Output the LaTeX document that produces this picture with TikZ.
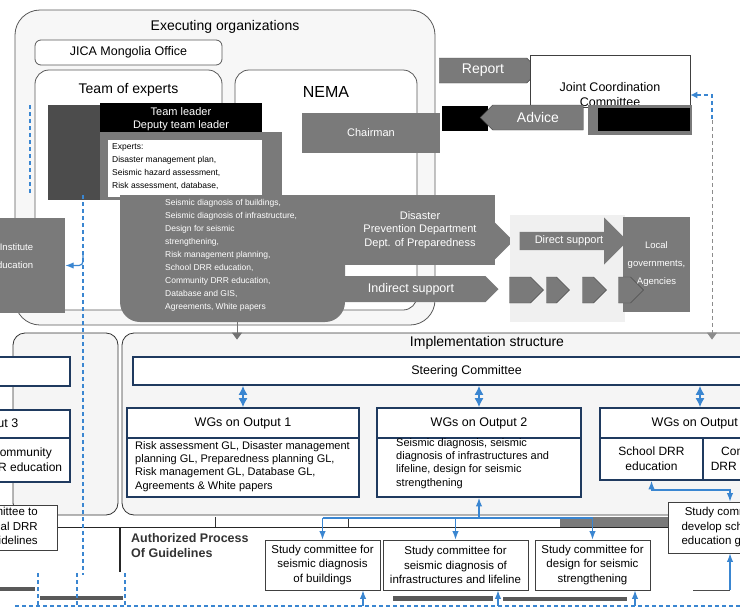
\documentclass[tikz,border=0pt]{standalone}
\usepackage{fontspec}
\setmainfont{Liberation Sans}
\usetikzlibrary{shapes.arrows,shapes.symbols,arrows.meta,calc}
\definecolor{navy}{HTML}{1F3A5F}
\definecolor{linkblue}{HTML}{3A86D1}
\definecolor{blockgray}{HTML}{7A7A7A}
\newcommand{\hugetxt}{\fontsize{16}{18}\selectfont}
\newcommand{\bigtxt}{\fontsize{14}{16}\selectfont}
\newcommand{\midtxt}{\fontsize{12.5}{15}\selectfont}
\newcommand{\sctxt}{\fontsize{11.5}{14.5}\selectfont}
\newcommand{\bodytxt}{\fontsize{11}{13.3}\selectfont}
\newcommand{\smalltxt}{\fontsize{8.5}{13}\selectfont}

\begin{document}
\begin{tikzpicture}[x=1pt,y=-1pt,
  orgbox/.style={draw=black!65,thick,rounded corners=8pt,fill=white,inner sep=0pt},
  wgbox/.style={draw=navy,line width=1.8pt,fill=white,inner sep=0pt},
  grayblock/.style={fill=blockgray,draw=none,inner sep=0pt,text=white},
  sigarrow/.style={signal,signal to=east,fill=blockgray,draw=black!70,text=white,inner sep=0pt},
  bigarrow/.style={single arrow,single arrow head extend=8.5pt,fill=blockgray,text=white,inner sep=0pt},
  blueline/.style={linkblue,line width=1.2pt},
  bluedash/.style={linkblue,line width=1.2pt,dash pattern=on 4pt off 3pt},
  scbox/.style={draw=black!75,thick,fill=white,inner sep=0pt,align=center,font=\sctxt},
]
\useasboundingbox (0,0) rectangle (740,614);
\clip (0,0) rectangle (740,614);
\fill[white] (0,0) rectangle (740,614);

% executing organizations
\node[orgbox,rounded corners=25pt,fill=gray!6,minimum width=420pt,minimum height=315pt] (exec) at (225,167.5) {};
\node[font=\bigtxt] (exectitle) at (225,27) {Executing organizations};
\node[orgbox,rounded corners=6pt,minimum width=187pt,minimum height=25pt,font=\midtxt] (jica) at (128.5,52.5) {JICA Mongolia Office};
\node[orgbox,rounded corners=14pt,minimum width=187pt,minimum height=240pt] (team) at (128.5,190) {};
\node[font=\bigtxt] (teamtitle) at (128.5,90) {Team of experts};
\node[orgbox,rounded corners=14pt,minimum width=182pt,minimum height=240pt] (nema) at (326,190) {};
\node[font=\hugetxt] (nematitle) at (326,92) {NEMA};

\draw[bluedash] (30,105) -- (30,195);

% experts and NEMA blocks
\node[grayblock,fill=black!70,minimum width=57pt,minimum height=95pt] (darkbar) at (76.5,152.5) {};
\node[grayblock,fill=black,minimum width=162pt,minimum height=32pt,align=center,font=\bodytxt] (leader) at (181,119) {Team leader\\Deputy team leader};
\node[grayblock,minimum width=182pt,minimum height=68pt] (frame) at (191,166) {};
\node[grayblock,fill=white,minimum width=154pt,minimum height=57pt] (experts) at (185,168.5) {};
\node[anchor=north west,align=left,font=\smalltxt,inner sep=0pt] (explist) at (112,143)
  {Experts:\\Disaster management plan,\\Seismic hazard assessment,\\Risk assessment, database,};
\fill[blockgray,rounded corners=20pt] (120,195) rectangle (345,322);
\fill[blockgray] (120,195) rectangle (345,240);
\node[anchor=north west,align=left,font=\smalltxt,text=white,inner sep=0pt] (explist2) at (165,199)
  {Seismic diagnosis of buildings,\\Seismic diagnosis of infrastructure,\\Design for seismic\\strengthening,\\Risk management planning,\\School DRR education,\\Community DRR education,\\Database and GIS,\\Agreements, White papers};
\node[bigarrow,minimum height=73pt,minimum width=47pt] (deptarrow) at (476.5,241) {};
\node[grayblock,minimum width=150pt,minimum height=70pt,align=center,font=\bodytxt] (dept) at (420,230)
  {Disaster\\Prevention Department\\Dept. of Preparedness};
\node[grayblock,minimum width=138pt,minimum height=40pt,font=\bodytxt] (chair) at (371,133) {Chairman};

% joint coordination committee
\node[sigarrow,minimum width=100pt,minimum height=25pt,font=\bigtxt] (report) at (483,70.5) {Report};
\node[draw=black!75,thick,fill=white,minimum width=160pt,minimum height=52pt] (jcc) at (610,81) {};
\node[align=center,font=\midtxt] (jcctext) at (610,95) {Joint Coordination\\Committee};
\fill[black] (442,106) rectangle (488,131);
\fill[blockgray] (588,105) rectangle (692,135);
\fill[black] (598,108) rectangle (690,131);
\node[sigarrow,signal to=west,minimum width=103pt,minimum height=25pt,font=\bigtxt] (advice) at (538,117.5) {Advice};

% support arrows
\fill[gray!12] (510,215) rectangle (625,322);
\node[bigarrow,minimum height=108pt,minimum width=47pt,font=\bodytxt] (direct) at (569,241) {Direct support};
\node[grayblock,minimum width=67pt,minimum height=95pt,align=center,font=\fontsize{9.5}{18}\selectfont] (target) at (656.5,264.5) {Local\\governments,\\Agencies};
\node[grayblock,minimum width=105pt,minimum height=95pt,align=right,font=\fontsize{9.5}{18}\selectfont] (leftgray) at (12.5,265.5) {Institute\\education\\};
\node[sigarrow,draw=none,minimum width=162pt,minimum height=26pt,font=\midtxt] (indirect) at (411,289) {Indirect support};
\node[sigarrow,minimum width=34pt,minimum height=26pt] (chev1) at (520,290) {};
\node[sigarrow,minimum width=23pt,minimum height=26pt] (chev2) at (551.5,290) {};
\node[sigarrow,minimum width=24pt,minimum height=26pt] (chev3) at (588,290) {};
\node[sigarrow,minimum width=25pt,minimum height=26pt] (chev4) at (624.5,290) {};

% implementation structure
\node[draw=black!80,thick,rounded corners=12pt,fill=gray!8,minimum width=105pt,minimum height=182pt] (implL) at (65.5,424) {};
\node[draw=black!80,thick,rounded corners=12pt,fill=gray!8,minimum width=678pt,minimum height=182pt] (implR) at (461,424) {};
\node[font=\bigtxt] (impltitle) at (487,343) {Implementation structure};
\node[wgbox,minimum width=170pt,minimum height=29pt] (steerL) at (-15,371.5) {};
\node[wgbox,minimum width=667pt,minimum height=28pt,font=\midtxt] (steer) at (466.5,371) {Steering Committee};

\node[wgbox,minimum width=232pt,minimum height=59pt] (wg1) at (243,467.5) {};
\node[wgbox,minimum width=232pt,minimum height=30pt,font=\midtxt] (wg1head) at (243,423) {WGs on Output 1};
\node[anchor=north west,align=left,font=\bodytxt,inner sep=0pt] (wg1text) at (135,441)
  {Risk assessment GL, Disaster management\\planning GL, Preparedness planning GL,\\Risk management GL, Database GL,\\Agreements \& White papers};
\node[wgbox,minimum width=204pt,minimum height=59pt] (wg2) at (479,467.5) {};
\node[wgbox,minimum width=204pt,minimum height=30pt,font=\midtxt] (wg2head) at (479,423) {WGs on Output 2};
\node[anchor=north west,align=left,font=\bodytxt,inner sep=0pt] (wg2text) at (396,438)
  {Seismic diagnosis, seismic\\diagnosis of infrastructures and\\lifeline, design for seismic\\strengthening};
\node[wgbox,minimum width=200pt,minimum height=30pt,font=\midtxt] (wg3head) at (700,423) {WGs on Output 3};
\node[wgbox,minimum width=103pt,minimum height=42pt,align=center,font=\fontsize{12}{15}\selectfont] (school) at (651.5,459) {School DRR\\education};
\node[wgbox,minimum width=97pt,minimum height=42pt,align=center,font=\fontsize{12}{15}\selectfont] (community) at (751.5,459) {Community\\DRR education};
\node[wgbox,minimum width=200pt,minimum height=28pt,font=\midtxt] (wgLhead) at (-30,424) {WGs on Output 3};
\node[wgbox,minimum width=97pt,minimum height=44pt,align=center,font=\fontsize{12}{15}\selectfont] (wgLcell) at (21.5,460) {Community\\DRR education};

\draw[blueline,{Latex[length=9pt,width=9pt]}-{Latex[length=9pt,width=9pt]}] (steer.south -| wg1) -- (wg1head.north);
\draw[blueline,{Latex[length=9pt,width=9pt]}-{Latex[length=9pt,width=9pt]}] (steer.south -| wg2) -- (wg2head.north);
\draw[blueline,{Latex[length=9pt,width=9pt]}-{Latex[length=9pt,width=9pt]}] (steer.south -| wg3head) -- (wg3head.north);

\coordinate (t1) at (237,322);
\draw[black!55,line width=1pt,shorten >=-7pt,-{Triangle[width=10pt,length=7pt]}] (t1) -- (implR.north -| t1);
\coordinate (r1) at (712,95);
\draw[bluedash,{Latex[length=7pt,width=7pt]}-] (jcc.east |- r1) -- (r1) -- ++(0,25);
\draw[black!45,line width=1pt,dash pattern=on 4pt off 3pt,shorten >=-7pt,-{Triangle[width=10pt,length=7pt]}] ($(r1)+(0,25)$) -- (implR.north -| r1);

% authorized process of guidelines
\fill[white] (215,517) rectangle (485,527);
\fill[blockgray] (560,517) rectangle (668,527);
\draw[black!80] (215,517) -- (215,527) (348,517) -- (348,527);
\draw[black!85,thick] (13,527) -- (668,527);
\draw[black!85,line width=2pt] (120,527) -- (120,572);
\node[anchor=north west,align=left,font=\bfseries\fontsize{12.5}{15}\selectfont,text=black!80,inner sep=0pt] (auth) at (131,533) {Authorized Process\\Of Guidelines};

\node[scbox,minimum width=115pt,minimum height=50pt] (sc1) at (322.5,565) {Study committee for\\seismic diagnosis\\of buildings};
\node[scbox,minimum width=145pt,minimum height=50pt] (sc2) at (455.5,565) {Study committee for\\seismic diagnosis of\\infrastructures and lifeline};
\node[scbox,minimum width=115pt,minimum height=50pt] (sc3) at (592.5,565) {Study committee for\\design for seismic\\strengthening};
\node[scbox,minimum width=132pt,minimum height=51pt] (scR) at (734,527.5) {Study committee to\\develop school DRR\\education guidelines};
\node[scbox,minimum width=137pt,minimum height=45pt,align=right] (scL) at (-11.5,527.5) {Study committee to\\develop local DRR\\guidelines};

\coordinate (h1) at (322.5,518);
\coordinate (h0) at (479,518);
\coordinate (h3) at (592.5,518);
\draw[blueline] (h1) -- (h3);
\draw[blueline,-Latex] (h1) -- (sc1.north);
\draw[blueline,-Latex] (sc2.north |- h1) -- (sc2.north);
\draw[blueline,-Latex] (h3) -- (sc3.north);
\draw[blueline,-Latex] (h0) -- (wg2.south);
\coordinate (k1) at (730,490);
\draw[blueline,Latex-Latex] (school.south) |- (k1) -- (k1 |- scR.north);
\coordinate (k2) at (730,590);
\draw[black!70,thick] (693,590) -- (k2);
\draw[blueline,-Latex] (k2) -- (k2 |- scR.south);

% left dashed link
\draw[bluedash] (83,195) -- (83,575);
\coordinate (l1) at (83,255);
\draw[blueline,rounded corners=4pt,-Latex] (l1) |- (leftgray.east);

% bottom strip
\fill[black!65] (0,587) rectangle (35,591);
\fill[black!65] (40,596) rectangle (123,600);
\fill[black!65] (393,596) rectangle (493,601);
\fill[black!65] (503,597) rectangle (627,601);
\draw[bluedash] (38,573) -- (38,606) (77,573) -- (77,606) (125,573) -- (125,606);
\draw[bluedash] (15,606) -- (740,606);
\coordinate (b1) at (363,606);
\coordinate (b2) at (498,606);
\coordinate (b3) at (635,606);
\draw[blueline,-Latex] (b1) -- (b1 |- sc1.south);
\draw[blueline,-Latex] (b2) -- (b2 |- sc2.south);
\draw[blueline,-Latex] (b3) -- (b3 |- sc3.south);
\end{tikzpicture}
\end{document}
